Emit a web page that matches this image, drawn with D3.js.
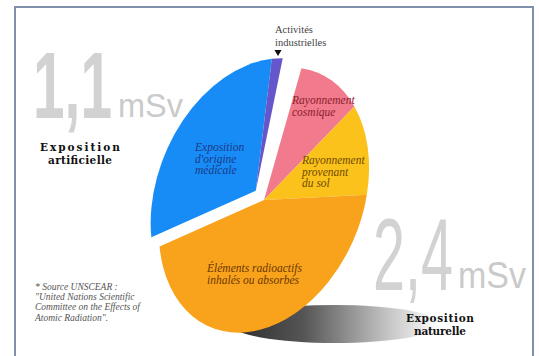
<!DOCTYPE html>
<html>
<head>
<meta charset="utf-8">
<script src="https://cdn.jsdelivr.net/npm/d3@7"></script>
<style>
  body { margin: 0; background: #fff; }
  svg { display: block; }
</style>
</head>
<body>
<svg id="chart"></svg>
<script>
// doses (mSv / an), source UNSCEAR
var categories = ["Rayonnement cosmique", "Rayonnement provenant du sol", "Éléments radioactifs inhalés ou absorbés", "Exposition d'origine médicale", "Activités industrielles"];
var groups = ["naturelle", "naturelle", "naturelle", "artificielle", "artificielle"];
var values = [0.38, 0.42, 1.6, 1.04, 0.06];
var totalLabels = ["1,1", "2,4"];
var unitLabel = "mSv";
var groupTitles = [["Exposition", "artificielle"], ["Exposition", "naturelle"]];
var sourceNote = ["* Source UNSCEAR :", "\"United Nations Scientific", "Committee on the Effects of", "Atomic Radiation\"."];

var svgWidth = 539, svgHeight = 356;
var svg = d3.select("#chart")
    .attr("width", svgWidth)
    .attr("height", svgHeight);

// frame
svg.append("rect")
    .attr("x", 15).attr("y", 7)
    .attr("width", 518).attr("height", 370)
    .attr("fill", "#fff")
    .attr("stroke", "#8090aa")
    .attr("stroke-width", 2);

var defs = svg.append("defs");
var shadowGrad = defs.append("linearGradient").attr("id", "shadow");
shadowGrad.append("stop").attr("offset", "0%").attr("stop-color", "#2b2b2b");
shadowGrad.append("stop").attr("offset", "35%").attr("stop-color", "#555");
shadowGrad.append("stop").attr("offset", "75%").attr("stop-color", "#c4c4c4");
shadowGrad.append("stop").attr("offset", "100%").attr("stop-color", "#fff");

// shadow under the pie
svg.append("ellipse")
    .attr("cx", 335).attr("cy", 324)
    .attr("rx", 105).attr("ry", 19)
    .attr("fill", "url(#shadow)");

var color = d3.scaleOrdinal()
    .domain(categories)
    .range(["#f17a8c", "#fcc21c", "#f9a31d", "#178cf6", "#6656cc"]);

// a few degrees are left empty at the top, between the two groups
var startDeg = -10, sweepDeg = 354;
var pie = d3.pie()
    .sort(null)
    .value(function(d) { return d; })
    .startAngle(startDeg * Math.PI / 180)
    .endAngle((startDeg + sweepDeg) * Math.PI / 180);

var R = 100;
var arc = d3.arc().innerRadius(0).outerRadius(R);
var arcs = pie(values);

// tilted, flattened disc
var g = svg.append("g")
    .attr("transform", "translate(264,200) rotate(23) scale(0.98,1.38)");

// explode the artificial part
var art = arcs.filter(function(d, i) { return groups[i] === "artificielle"; });
var artMid = (art[0].startAngle + art[art.length - 1].endAngle) / 2;
var explode = 12;

g.selectAll("path.slice")
    .data(arcs)
    .join("path")
    .attr("class", "slice")
    .attr("d", arc)
    .attr("fill", function(d, i) { return color(categories[i]); })
    .attr("transform", function(d, i) {
        if (groups[i] !== "artificielle") return null;
        return "translate(" + (explode * Math.sin(artMid)) + "," + (-explode * Math.cos(artMid)) + ")";
    });

// slice labels
var sliceLabels = [
    { lines: ["Rayonnement", "cosmique"], x: 292, y: 104, fill: "#8c1d2e" },
    { lines: ["Rayonnement", "provenant", "du sol"], x: 302, y: 164, fill: "#6e4b00" },
    { lines: ["Éléments radioactifs", "inhalés ou absorbés"], x: 207, y: 272, fill: "#6b3700" },
    { lines: ["Exposition", "d'origine", "médicale"], x: 195, y: 151, fill: "#1c3a8a" }
];
sliceLabels.forEach(function(l) {
    var t = svg.append("text")
        .attr("font-family", "Liberation Serif, serif")
        .attr("font-style", "italic")
        .attr("font-size", 11.5)
        .attr("fill", l.fill);
    l.lines.forEach(function(s, k) {
        t.append("tspan").attr("x", l.x).attr("y", l.y + k * 11.5).text(s);
    });
});

// industrial callout
var ind = svg.append("text")
    .attr("font-family", "Liberation Serif, serif")
    .attr("font-size", 10.5)
    .attr("fill", "#444");
ind.append("tspan").attr("x", 275).attr("y", 33).text(categories[4].split(" ")[0]);
ind.append("tspan").attr("x", 275).attr("y", 46).text(categories[4].split(" ")[1]);
svg.append("path")
    .attr("d", d3.symbol(d3.symbolTriangle, 22))
    .attr("transform", "translate(278,52) rotate(180)")
    .attr("fill", "#111");

// big grey text squeezed horizontally to a given width
function squeezed(txt, x, y, size, width, weight, fill) {
    var t = svg.append("text")
        .attr("font-family", "Liberation Sans Narrow, Liberation Sans, sans-serif")
        .attr("font-weight", weight)
        .attr("font-size", size)
        .attr("fill", fill)
        .text(txt);
    var w = t.node().getComputedTextLength();
    t.attr("transform", "translate(" + x + "," + y + ") scale(" + (width / w) + ",1)");
}
squeezed(totalLabels[0], 33, 118, 95, 79, "bold", "#d2d2d2");
squeezed(unitLabel, 118, 117, 34, 65, "normal", "#cacaca");
squeezed(totalLabels[1], 373, 290, 102, 80, "normal", "#d2d2d2");
squeezed(unitLabel, 458, 288, 37, 68, "normal", "#cacaca");

// group titles
function title(lines, cx, y, lens) {
    lines.forEach(function(s, k) {
        svg.append("text")
            .attr("x", cx - lens[k] / 2).attr("y", y + k * 12.5)
            .attr("font-family", "DejaVu Serif, serif")
            .attr("font-weight", "bold")
            .attr("font-size", 10.5)
            .attr("fill", "#111")
            .attr("textLength", lens[k])
            .attr("lengthAdjust", "spacing")
            .text(s);
    });
}
title(groupTitles[0], 80, 151, [80, 64]);
title(groupTitles[1], 440, 322, [68, 52]);

// source note
var note = svg.append("text")
    .attr("font-family", "Liberation Serif, serif")
    .attr("font-style", "italic")
    .attr("font-size", 9.5)
    .attr("fill", "#555");
sourceNote.forEach(function(s, k) {
    note.append("tspan").attr("x", 35).attr("y", 290 + k * 10.2).text(s);
});
</script>
</body>
</html>
